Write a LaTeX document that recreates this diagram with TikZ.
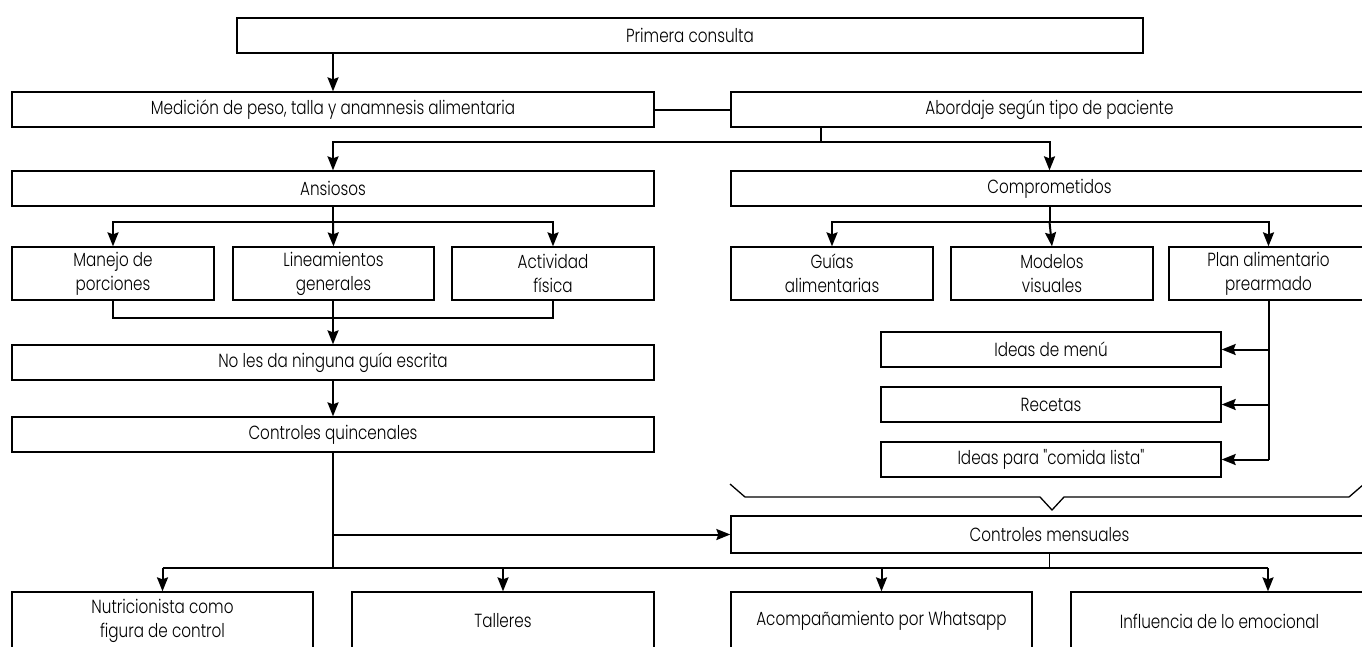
\documentclass[tikz,border=0pt]{standalone}
\usepackage{fontspec}
\setmainfont{Poppins}[UprightFont={* Light},FakeStretch=0.8,Ligatures=TeXOff]
\usetikzlibrary{arrows.meta}
\newcommand\bx[6]{\node[box,minimum width={(#4-#2)*1pt},minimum height={(#5-#3)*1pt}] (#1) at ({(#2+#4)/2},{(#3+#5)/2}) {#6};}
\begin{document}
\begin{tikzpicture}[x=1pt,y=-1pt,
 box/.style={draw,line width=1.3pt,inner sep=2pt,align=center,font=\fontsize{19}{24}\selectfont},
 conn/.style={line width=2pt},
 thinl/.style={line width=1.3pt},
 arr/.style={conn,-{Stealth[length=14pt,width=11pt,inset=2pt]}}]
\useasboundingbox (0,0) rectangle (1362,646);
\clip (0,0) rectangle (1362,646);
\bx{P}{237}{18}{1143}{53}{Primera consulta}
\bx{M}{12}{92}{654}{127}{Medición de peso, talla y anamnesis alimentaria}
\bx{A}{731}{92}{1368}{127}{Abordaje según tipo de paciente}
\bx{AN}{12}{171}{654}{206}{Ansiosos}
\bx{CO}{731}{171}{1368}{206}{Comprometidos}
\bx{S1}{12}{247}{214}{300}{Manejo de\\porciones}
\bx{S2}{233}{247}{434}{300}{Lineamientos\\generales}
\bx{S3}{452}{247}{654}{300}{Actividad\\física}
\bx{G1}{731}{247}{933}{300}{Guías\\alimentarias}
\bx{G2}{951}{247}{1153}{300}{Modelos\\visuales}
\bx{G3}{1169}{247}{1368}{300}{Plan alimentario\\prearmado}
\bx{NL}{12}{345}{654}{380}{No les da ninguna guía escrita}
\bx{Q}{12}{417}{654}{452}{Controles quincenales}
\bx{I1}{881}{332}{1221}{367}{Ideas de menú}
\bx{I2}{881}{387}{1221}{422}{Recetas}
\bx{I3}{881}{442}{1221}{477}{Ideas para "comida lista"}
\bx{CM}{731}{516}{1368}{553}{Controles mensuales}
\bx{B1}{12}{592}{313}{650}{Nutricionista como\\figura de control}
\bx{B2}{352}{592}{654}{650}{Talleres}
\bx{B3}{731}{592}{1032}{650}{Acompañamiento por Whatsapp}
\bx{B4}{1071}{592}{1368}{650}{Influencia de lo emocional}
\coordinate (r2) at (0,222);
\coordinate (r3) at (0,318);
\coordinate (r4) at (0,568);
\coordinate (a1) at (821,142);
\coordinate (b4c) at (1268,568);
% top
\draw[arr] (M.north |- P.south) -- (M.north);
\draw[conn] (M.east) -- (M.east -| A.west);
\draw[thinl] (a1 |- A.south) -- (a1);
\draw[arr] (a1) -| (AN.north);
\draw[arr] (a1) -| (CO.north);
% ansiosos
\draw[conn] (AN.south) -- (AN.south |- r2) coordinate (an);
\draw[arr] (an) -| (S1.north);
\draw[arr] (an) -| (S3.north);
\draw[arr] (an) -- (S2.north);
\draw[conn] (S1.south) |- (S2.south |- r3) -| (S3.south);
\draw[arr] (NL.north |- S2.south) -- (NL.north);
\draw[arr] (NL.south) -- (Q.north);
% comprometidos
\draw[conn] (CO.south) -- (CO.south |- r2) coordinate (co);
\draw[arr] (co) -| (G1.north);
\draw[arr] (co) -| (G3.north);
\draw[arr] (co) -- (G2.north);
\draw[conn] (G3.south) -- (G3.south |- I3.east);
\draw[arr] (G3.south |- I1.east) -- (I1.east);
\draw[arr] (G3.south |- I2.east) -- (I2.east);
\draw[arr] (G3.south |- I3.east) -- (I3.east);
% brace
\draw[thinl] (730,484) -- (745,497) -- (1040,497) -- (1052,510) -- (1064,497) -- (1349,497) -- (1364,484);
% bottom
\draw[conn] (Q.south) -- (Q.south |- r4);
\draw[arr] (Q.south |- CM.west) -- (CM.west);
\draw[thinl] (CM.south) -- (CM.south |- r4);
\draw[conn] (B1.north |- r4) -- (b4c);
\draw[arr] (B1.north |- r4) -- (B1.north);
\draw[arr] (B2.north |- r4) -- (B2.north);
\draw[arr] (B3.north |- r4) -- (B3.north);
\draw[arr] (b4c) -- (b4c |- B4.north);
\end{tikzpicture}
\end{document}
